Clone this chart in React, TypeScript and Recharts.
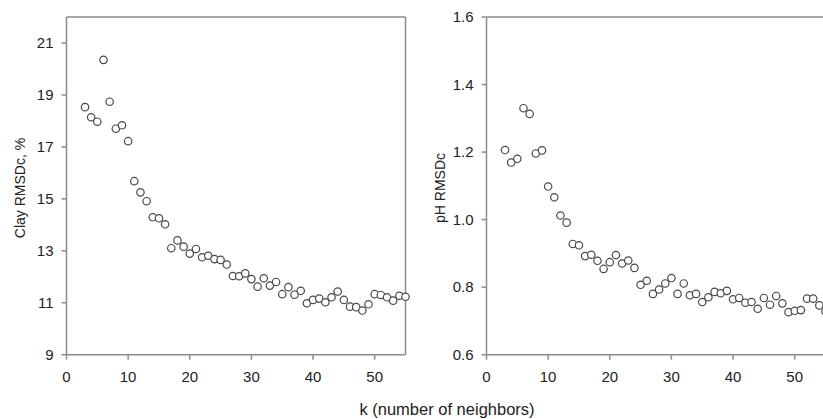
import { ScatterChart, Scatter, XAxis, YAxis, ReferenceLine } from 'recharts'

// k = 3 .. 55 (number of neighbours)
const kValues = [
  3, 4, 5, 6, 7, 8, 9, 10, 11, 12, 13, 14, 15, 16, 17, 18, 19, 20, 21, 22, 23, 24, 25, 26, 27, 28, 29,
  30, 31, 32, 33, 34, 35, 36, 37, 38, 39, 40, 41, 42, 43, 44, 45, 46, 47, 48, 49, 50, 51, 52, 53, 54, 55,
]
const clayRmsd = [
  18.53, 18.14, 17.97, 20.35, 18.74, 17.7, 17.83, 17.22, 15.68, 15.25, 14.91, 14.29, 14.25, 14.02, 13.1,
  13.4, 13.16, 12.89, 13.07, 12.75, 12.81, 12.68, 12.65, 12.47, 12.03, 12.02, 12.13, 11.91, 11.62, 11.94,
  11.66, 11.8, 11.33, 11.6, 11.31, 11.46, 10.98, 11.11, 11.16, 11.02, 11.21, 11.43, 11.11, 10.85, 10.83,
  10.7, 10.94, 11.33, 11.3, 11.21, 11.08, 11.27, 11.23,
]
const phRmsd = [
  1.206, 1.169, 1.18, 1.33, 1.313, 1.196, 1.205, 1.098, 1.066, 1.012, 0.991, 0.928, 0.924, 0.892, 0.896,
  0.878, 0.854, 0.874, 0.895, 0.87, 0.879, 0.857, 0.807, 0.819, 0.78, 0.793, 0.811, 0.827, 0.78, 0.811,
  0.776, 0.78, 0.756, 0.77, 0.786, 0.782, 0.789, 0.764, 0.768, 0.754, 0.756, 0.736, 0.768, 0.748, 0.774,
  0.752, 0.726, 0.73, 0.732, 0.766, 0.766, 0.746, 0.728,
]
const kTicks = [0, 10, 20, 30, 40, 50]
const clayTicks = [9, 11, 13, 15, 17, 19, 21]
const phTicks = [0.6, 0.8, 1.0, 1.2, 1.4, 1.6]

const FONT = 'Arial, "Liberation Sans", sans-serif'
const AXIS = '#8c8c8c'
const INK = '#222'

const dot = (p: any) => (
  <circle cx={p.cx} cy={p.cy} r={3.7} fill="#fff" stroke="#484848" strokeWidth={1.2} />
)

function Panel({
  left,
  values,
  yDomain,
  yTicks,
  yFmt,
  title,
}: {
  left: number
  values: number[]
  yDomain: [number, number]
  yTicks: number[]
  yFmt: (v: number) => string
  title: string
}) {
  const data = kValues.map((k, i) => ({ k, v: values[i] }))
  const tick = { fontSize: 15, fill: INK, fontFamily: FONT }
  return (
    <div style={{ position: 'absolute', left, top: 0 }}>
      <ScatterChart width={420} height={419} margin={{ top: 17, right: 14.5, bottom: 34.3, left: 0 }}>
        <XAxis
          type="number"
          dataKey="k"
          domain={[0, 55]}
          ticks={kTicks}
          height={30}
          tick={tick}
          tickSize={5}
          tickMargin={12}
          stroke={AXIS}
          strokeWidth={1.5}
          allowDecimals={false}
        />
        <YAxis
          type="number"
          dataKey="v"
          domain={yDomain}
          ticks={yTicks}
          width={66.5}
          tick={tick}
          tickSize={5}
          tickMargin={8}
          tickFormatter={yFmt}
          stroke={AXIS}
          strokeWidth={1.5}
          label={{
            content: () => (
              <text
                x={20}
                y={188}
                transform="rotate(-90, 20, 188)"
                textAnchor="middle"
                dominantBaseline="central"
                fontSize={14}
                fontFamily={FONT}
                fill={INK}
              >
                {title}
              </text>
            ),
          }}
        />
        <ReferenceLine x={55} stroke={AXIS} strokeWidth={1.5} />
        <ReferenceLine y={yDomain[1]} stroke={AXIS} strokeWidth={1.5} />
        <Scatter data={data} shape={dot} isAnimationActive={false} />
      </ScatterChart>
    </div>
  )
}

export default function App() {
  return (
    <div
      style={{
        position: 'absolute',
        left: 0,
        top: 0,
        width: 823,
        height: 419,
        overflow: 'hidden',
        background: '#fff',
      }}
    >
      <Panel
        left={0}
        values={clayRmsd}
        yDomain={[9, 22]}
        yTicks={clayTicks}
        yFmt={(v) => `${v}`}
        title="Clay RMSDc, %"
      />
      <Panel
        left={420}
        values={phRmsd}
        yDomain={[0.6, 1.6]}
        yTicks={phTicks}
        yFmt={(v) => v.toFixed(1)}
        title="pH RMSDc"
      />
      <svg
        width={823}
        height={419}
        style={{ position: 'absolute', left: 0, top: 0, pointerEvents: 'none' }}
      >
        <text x={447} y={415} textAnchor="middle" fontSize={16.5} fontFamily={FONT} fill={INK}>
          k (number of neighbors)
        </text>
      </svg>
    </div>
  )
}
